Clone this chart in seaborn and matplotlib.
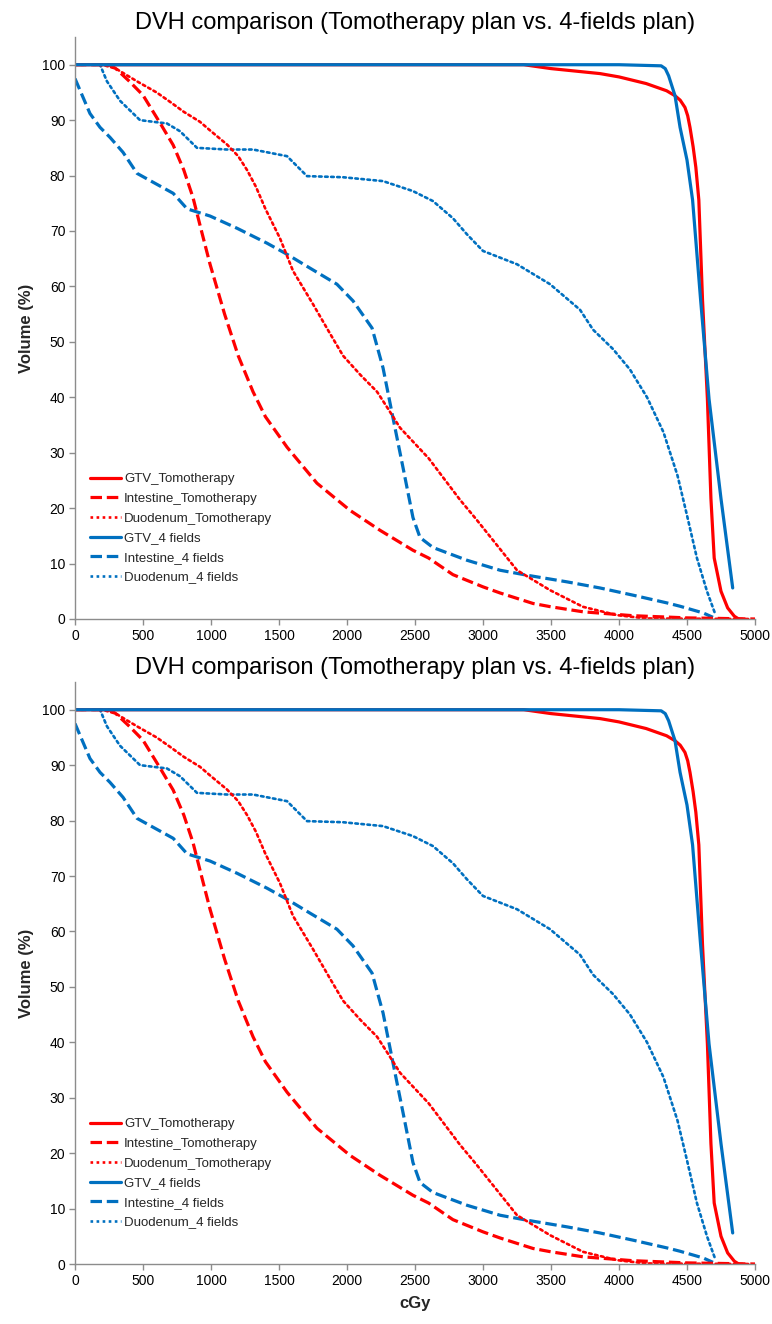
import matplotlib
matplotlib.use("Agg")
import matplotlib.pyplot as plt
import seaborn as sns
import pandas as pd
from matplotlib.lines import Line2D

# ---------------- data ----------------
title = "DVH comparison (Tomotherapy plan vs. 4-fields plan)"
series_names = ["GTV_Tomotherapy", "Intestine_Tomotherapy", "Duodenum_Tomotherapy",
                "GTV_4 fields", "Intestine_4 fields", "Duodenum_4 fields"]

gtv_tomo_x = [0, 3300, 3500, 3860, 4000, 4200, 4350, 4412, 4450, 4485, 4505, 4522, 4545, 4565,
              4587, 4614, 4650, 4676, 4700, 4750, 4799, 4848, 4880]
gtv_tomo_y = [100, 100, 99.3, 98.4, 97.8, 96.6, 95.3, 94.4, 93.6, 92.3, 90.8, 88.7, 85.2, 81.5,
              75.6, 57.6, 39.7, 21.7, 11, 5, 2, 0.5, 0]

int_tomo_x = [0, 250, 300, 400, 500, 625, 722, 800, 868, 930, 993, 1100, 1200, 1309, 1400, 1559,
              1779, 2022, 2243, 2485, 2600, 2779, 3000, 3125, 3368, 3500, 3735, 4100, 4500, 5000]
int_tomo_y = [100, 100, 99.3, 97, 94.5, 89.5, 85.5, 81, 76, 70, 64, 55, 47.5, 41, 36.5, 31,
              24.5, 19.6, 16, 12.4, 11, 8, 5.8, 4.7, 2.8, 2.2, 1.3, 0.6, 0.2, 0]

duo_tomo_x = [0, 200, 300, 456, 600, 699, 800, 919, 1000, 1118, 1200, 1265, 1330, 1400, 1507, 1603,
              1750, 1875, 1971, 2100, 2221, 2300, 2390, 2600, 2831, 2950, 3074, 3250, 3493, 3735,
              3985, 4200, 4950]
duo_tomo_y = [100, 100, 99.3, 97, 95, 93.3, 91.5, 89.7, 88, 85.6, 83.5, 81, 78, 74, 68.7, 62.8,
              56.8, 51.5, 47.5, 44, 41, 38, 34.5, 29, 21.5, 18, 14.2, 8.8, 5.2, 2.2,
              0.7, 0.1, 0]

gtv_4f_x = [0, 4000, 4310, 4340, 4365, 4412, 4449, 4500, 4541, 4600, 4662, 4750, 4836]
gtv_4f_y = [100, 100, 99.8, 99.3, 98, 94.4, 88.7, 82.8, 75.6, 57.6, 39.7, 21.7, 5.6]

int_4f_x = [0, 110, 184, 257, 353, 456, 574, 722, 824, 993, 1191, 1412, 1559, 1728, 1926, 2044,
            2184, 2265, 2338, 2412, 2485, 2537, 2632, 2882, 3125, 3324, 3618, 3860, 4103, 4353,
            4449, 4618, 4691]
int_4f_y = [97.5, 91.2, 88.7, 86.9, 84.2, 80.4, 78.8, 76.8, 74, 72.7, 70.5, 67.8, 65.8, 63.3,
            60.4, 57.4, 52.5, 45.3, 36.3, 27.3, 18.3, 14.7, 12.9, 10.6, 8.8, 7.9, 6.7, 5.6, 4.3,
            2.9, 2.3, 1.1, 0.3]

duo_4f_x = [0, 184, 235, 331, 478, 676, 772, 897, 1118, 1309, 1559, 1706, 1971, 2265, 2485, 2632,
            2779, 2882, 3000, 3250, 3493, 3713, 3809, 3956, 4081, 4206, 4327, 4430, 4500, 4573,
            4647, 4706]
duo_4f_y = [100, 100, 97, 93.5, 90, 89.4, 88, 85, 84.7, 84.7, 83.5, 79.9, 79.7, 79, 77.2, 75.4,
            72.3, 69.4, 66.4, 64, 60.4, 55.8, 52.2, 48.7, 45, 40, 33.7, 25.9, 18.7, 11,
            5, 1]

x_ticks = list(range(0, 5001, 500))
y_ticks = list(range(0, 101, 10))

# ---------------- styles ----------------
RED = "#FF0000"
BLUE = "#0070C0"
colors = [RED, RED, RED, BLUE, BLUE, BLUE]
dash_styles = ["", (3.6, 1.5), (1, 1.3), "", (3.6, 1.5), (1, 1.3)]
widths = [2.3, 2.3, 1.9, 2.3, 2.3, 1.9]

xs = [gtv_tomo_x, int_tomo_x, duo_tomo_x, gtv_4f_x, int_4f_x, duo_4f_x]
ys = [gtv_tomo_y, int_tomo_y, duo_tomo_y, gtv_4f_y, int_4f_y, duo_4f_y]

frames = []
for name, x, y in zip(series_names, xs, ys):
    frames.append(pd.DataFrame({"dose": x, "volume": y, "structure": name}))
df = pd.concat(frames, ignore_index=True)

sns.set_theme(style="white")
plt.rcParams["font.family"] = ["Liberation Sans", "DejaVu Sans"]

fig = plt.figure(figsize=(7.72, 13.24), dpi=100)
W, H = 772, 1324
left, right = 75 / W, 755 / W
panels = [(37, 619), (682, 1264)]

draw_order = [4, 5, 1, 2, 0, 3]

for i, (top_px, bot_px) in enumerate(panels):
    ax = fig.add_axes([left, 1 - bot_px / H, right - left, (bot_px - top_px) / H])
    for k in draw_order:
        name = series_names[k]
        sub = df[df["structure"] == name]
        sns.lineplot(data=sub, x="dose", y="volume", ax=ax, color=colors[k],
                     linewidth=widths[k], sort=False, estimator=None, legend=False)
        line = ax.lines[-1]
        line.set_solid_joinstyle("round")
        if dash_styles[k]:
            line.set_dashes(dash_styles[k])
        if k in (2, 5):
            line.set_dash_capstyle("round")
    ax.set_xlim(0, 5000)
    ax.set_ylim(0, 105)
    ax.set_xticks(x_ticks)
    ax.set_yticks(y_ticks)
    ax.tick_params(axis="both", labelsize=10, length=4, width=1, color="#8c8c8c",
                   direction="out", left=True, bottom=True, pad=3, labelcolor="black")
    for s in ["top", "right"]:
        ax.spines[s].set_visible(False)
    for s in ["left", "bottom"]:
        ax.spines[s].set_color("#8c8c8c")
        ax.spines[s].set_linewidth(1)
    ax.set_title(title, fontsize=17, pad=6, color="black")
    ax.set_ylabel("Volume (%)", fontsize=12, fontweight="bold", labelpad=6)
    if i == 1:
        ax.set_xlabel("cGy", fontsize=12, fontweight="bold", labelpad=6)
    else:
        ax.set_xlabel("")
    handles = []
    for k, name in enumerate(series_names):
        h = Line2D([0], [0], color=colors[k], linewidth=widths[k])
        if dash_styles[k]:
            h.set_dashes(dash_styles[k])
        handles.append(h)
    ax.legend(handles, series_names, loc="lower left", bbox_to_anchor=(0.009, 0.045),
              frameon=False, fontsize=9.5, handlelength=2.3, handletextpad=0.25,
              labelspacing=0.56, borderaxespad=0.3)

fig.savefig("out.png", dpi=100)
